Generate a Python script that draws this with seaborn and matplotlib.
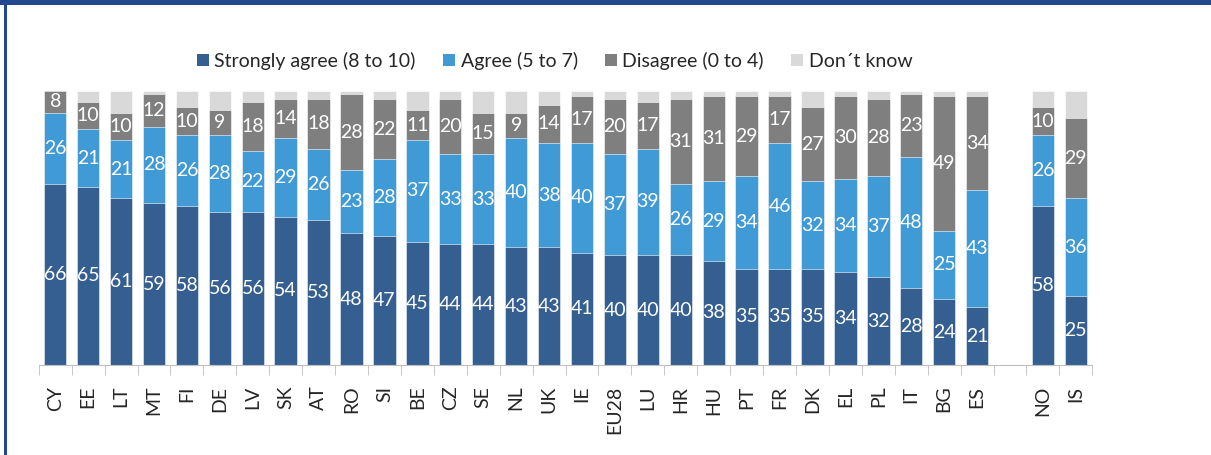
import matplotlib
matplotlib.use("Agg")
import matplotlib.pyplot as plt
from matplotlib.patches import Patch, Rectangle
import numpy as np
import pandas as pd
import seaborn as sns

countries = ["CY", "EE", "LT", "MT", "FI", "DE", "LV", "SK", "AT", "RO", "SI", "BE",
             "CZ", "SE", "NL", "UK", "IE", "EU28", "LU", "HR", "HU", "PT", "FR", "DK",
             "EL", "PL", "IT", "BG", "ES", "NO", "IS"]
strongly = [66, 65, 61, 59, 58, 56, 56, 54, 53, 48, 47, 45, 44, 44, 43, 43, 41, 40, 40,
            40, 38, 35, 35, 35, 34, 32, 28, 24, 21, 58, 25]
agree = [26, 21, 21, 28, 26, 28, 22, 29, 26, 23, 28, 37, 33, 33, 40, 38, 40, 37, 39,
         26, 29, 34, 46, 32, 34, 37, 48, 25, 43, 26, 36]
disagree = [8, 10, 10, 12, 10, 9, 18, 14, 18, 28, 22, 11, 20, 15, 9, 14, 17, 20, 17,
            31, 31, 29, 17, 27, 30, 28, 23, 49, 34, 10, 29]
dont_know = [1, 4, 8, 1, 6, 7, 4, 3, 3, 1, 3, 7, 3, 8, 8, 5, 2, 3, 4, 3, 2, 2, 2, 6,
             2, 3, 1, 2, 2, 6, 10]

series = ["Strongly agree (8 to 10)", "Agree (5 to 7)", "Disagree (0 to 4)", "Don\u00b4t know"]
colors = ["#365F91", "#409AD6", "#7F7F7F", "#D9D9D9"]

# blank slot between ES and NO
order = countries[:29] + [" "] + countries[29:]

df = pd.DataFrame({"country": countries, "s": strongly, "a": agree,
                   "d": disagree, "k": dont_know})
df["c1"] = df["s"]
df["c2"] = df["c1"] + df["a"]
df["c3"] = df["c2"] + df["d"]
df["c4"] = df["c3"] + df["k"]

sns.set_style("white")
plt.rcParams["font.family"] = ["Lato", "DejaVu Sans"]

fig = plt.figure(figsize=(12.11, 4.55), dpi=100)
ax = fig.add_axes([0.032, 0.198, 0.870, 0.602])

for col, color in zip(["c4", "c3", "c2", "c1"], colors[::-1]):
    sns.barplot(data=df, x="country", y=col, order=order, color=color,
                width=0.68, saturation=1, edgecolor="white", linewidth=0.4, ax=ax)

pos = {c: i for i, c in enumerate(order)}
for _, r in df.iterrows():
    x = pos[r["country"]]
    bottom = 0
    for val in (r["s"], r["a"], r["d"]):
        ax.text(x, bottom + val / 2, f"{val:d}", ha="center", va="center",
                color="white", fontsize=14)
        bottom += val

ax.set_ylim(0, 100)
ax.set_xlim(-0.5, len(order) - 0.5)
ax.set_yticks([])
ax.set_xlabel("")
ax.set_ylabel("")
for side in ["top", "right", "left"]:
    ax.spines[side].set_visible(False)
ax.spines["bottom"].set_color("#BFBFBF")
ax.set_xticks(range(len(order)))
ax.set_xticklabels(order, rotation=90, fontsize=14)
ax.tick_params(axis="x", which="major", length=0, pad=15)
ax.set_xticks(np.arange(-0.5, len(order), 1.0), minor=True)
ax.tick_params(axis="x", which="minor", length=7, color="#BFBFBF", bottom=True)

handles = [Patch(facecolor=c, edgecolor="none") for c in colors]
fig.legend(handles, series, loc="center", bbox_to_anchor=(0.458, 0.866), ncol=4,
           frameon=False, fontsize=14, handlelength=0.6, handleheight=0.6,
           handletextpad=0.3, columnspacing=1.4)

# frame
fig.add_artist(Rectangle((0, 0.989), 1, 0.011, transform=fig.transFigure,
                         color="#23488F", lw=0))
fig.add_artist(Rectangle((0.0035, 0), 0.002, 1, transform=fig.transFigure,
                         color="#23488F", lw=0))

fig.savefig("out.png", dpi=100)
